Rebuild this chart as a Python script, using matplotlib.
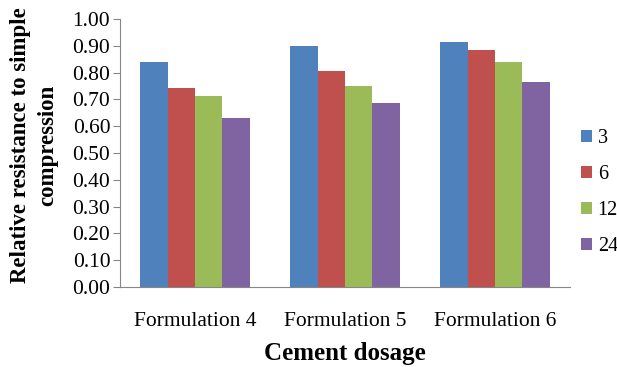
import numpy as np
import matplotlib.pyplot as plt

plt.rcParams['font.family'] = ['Liberation Serif', 'DejaVu Serif']

# data
categories = ['Formulation 4', 'Formulation 5', 'Formulation 6']
series = ['3', '6', '12', '24']
values = [
    [0.838, 0.898, 0.915],  # 3
    [0.741, 0.808, 0.883],  # 6
    [0.713, 0.750, 0.840],  # 12
    [0.629, 0.687, 0.765],  # 24
]
colors = ['#4F81BD', '#C0504D', '#9BBB59', '#8064A2']

fig = plt.figure(figsize=(6.17, 3.67), dpi=100)
ax = fig.add_axes([0.1945, 0.218, 0.7295, 0.730])

x = np.arange(len(categories))
w = 0.73 / len(series)
for i, (name, vals) in enumerate(zip(series, values)):
    ax.bar(x + (i - 1.5) * w, vals, w, color=colors[i], label=name, zorder=2)

ax.set_xlim(-0.5, len(categories) - 0.5)
ax.set_ylim(0, 1.0)
ax.set_yticks(np.arange(0, 1.01, 0.1))
ax.set_yticklabels([f'{v:.2f}' for v in np.arange(0, 1.01, 0.1)])
ax.set_xticks(x)
ax.set_xticklabels(categories)

for s in ['top', 'right']:
    ax.spines[s].set_visible(False)
for s in ['left', 'bottom']:
    ax.spines[s].set_color('#868686')
ax.tick_params(axis='y', direction='out', length=5, color='#868686', labelsize=15.5, pad=2)
ax.tick_params(axis='x', direction='in', length=2, color='#868686', labelsize=15.5, pad=18)

ax.set_xlabel('Cement dosage', fontsize=18, fontweight='bold', labelpad=8)
ax.set_ylabel('Relative resistance to simple\ncompression', fontsize=16.5,
              fontweight='bold', linespacing=1.35)
ax.yaxis.set_label_coords(-0.138, 0.53)

fig.legend(loc='center left', bbox_to_anchor=(0.941, 0.475), frameon=False,
           fontsize=14.5, handlelength=0.55, handleheight=0.55, labelspacing=0.85,
           handletextpad=0.3, borderpad=0, borderaxespad=0)

fig.savefig('out.png', dpi=100)
